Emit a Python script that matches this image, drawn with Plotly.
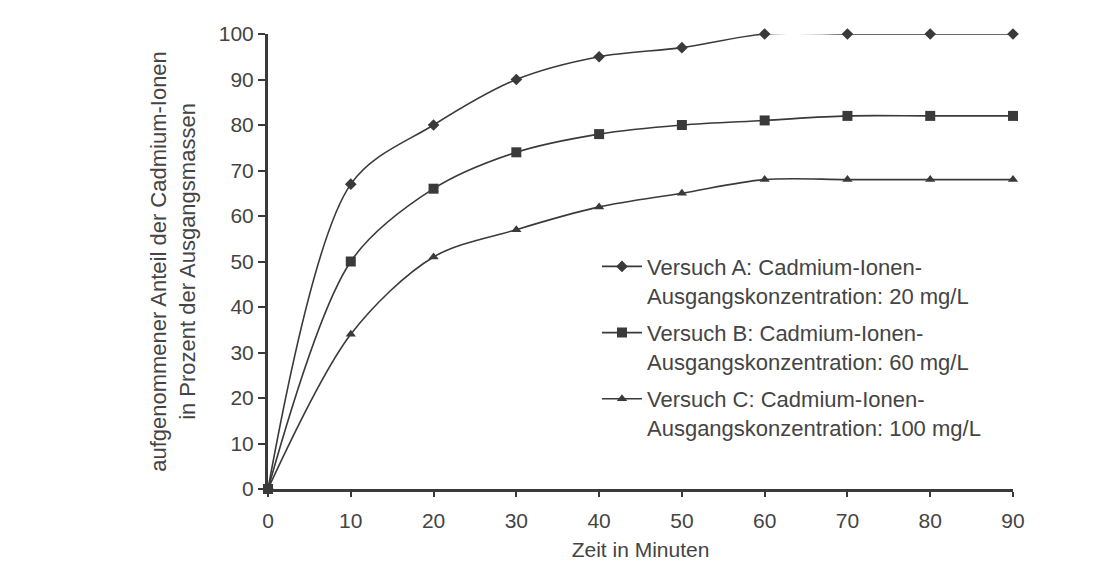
import plotly.graph_objects as go

zeit = [0, 10, 20, 30, 40, 50, 60, 70, 80, 90]
versuch_a = [0, 67, 80, 90, 95, 97, 100, 100, 100, 100]
versuch_b = [0, 50, 66, 74, 78, 80, 81, 82, 82, 82]
versuch_c = [0, 34, 51, 57, 62, 65, 68, 68, 68, 68]

names = [
    "Versuch A: Cadmium-Ionen-<br>Ausgangskonzentration: 20 mg/L",
    "Versuch B: Cadmium-Ionen-<br>Ausgangskonzentration: 60 mg/L",
    "Versuch C: Cadmium-Ionen-<br>Ausgangskonzentration: 100 mg/L",
]
symbols = ["diamond", "square", "triangle-up"]
sizes = [9, 10, 9]
series = [versuch_a, versuch_b, versuch_c]

lc = "#3a3a3a"
fig = go.Figure()
for i, (nm, ys) in enumerate(zip(names, series)):
    fig.add_trace(go.Scatter(
        x=zeit, y=ys, name=nm, mode="lines+markers",
        line=dict(color=lc, width=1.6, shape="spline", smoothing=0.9),
        marker=dict(symbol=symbols[i], size=sizes[i], color=lc),
        cliponaxis=False, legendgroup=str(i),
    ))

fnt = dict(family="Liberation Sans, Arial, sans-serif", color="#444444")
fig.update_layout(
    width=1106, height=580,
    paper_bgcolor="white", plot_bgcolor="white",
    margin=dict(l=260, r=101, t=26, b=99),
    font=dict(size=21, **fnt),
    showlegend=True,
    legend=dict(x=0.4416, y=0.535, xanchor="left", yanchor="top",
                bgcolor="rgba(0,0,0,0)", valign="top", tracegroupgap=6,
                itemwidth=40, font=dict(size=22, **fnt)),
    xaxis=dict(range=[0, 90], tickvals=zeit, ticks="outside", ticklen=5,
               tickcolor=lc, tickwidth=2, showline=True, linecolor=lc, linewidth=3,
               showgrid=False, zeroline=False, ticklabelstandoff=6,
               title=dict(text="Zeit in Minuten", font=dict(size=21, **fnt), standoff=12),
               tickfont=dict(size=21, **fnt)),
    yaxis=dict(range=[0, 100], tickvals=list(range(0, 101, 10)), ticks="outside",
               ticklen=7, tickcolor=lc, tickwidth=2, showline=True, linecolor=lc,
               linewidth=3, showgrid=False, zeroline=False,
               title=dict(text="aufgenommener Anteil der Cadmium-Ionen<br>in Prozent der Ausgangsmassen",
                          font=dict(size=22, **fnt), standoff=18),
               tickfont=dict(size=21, **fnt)),
)
fig.write_html("out.html")
